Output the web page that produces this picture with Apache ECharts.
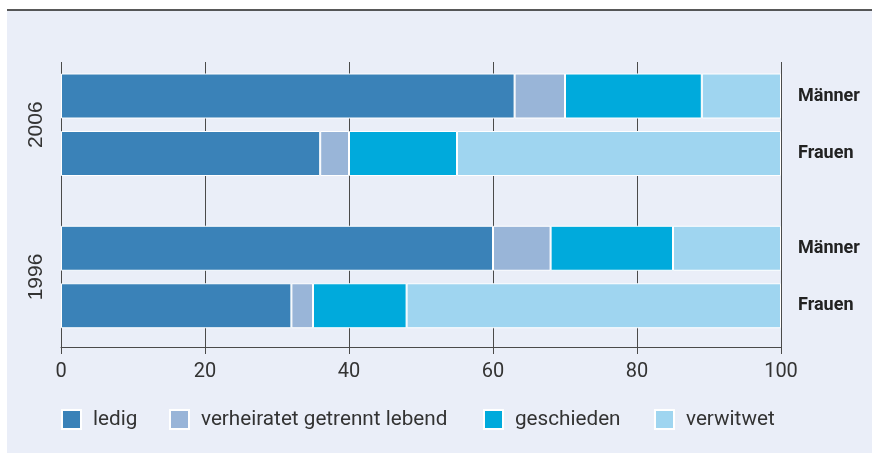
<!DOCTYPE html>
<html>
<head>
<meta charset="utf-8">
<script src="https://cdn.jsdelivr.net/npm/echarts@6/dist/echarts.min.js"></script>
<style>
  html, body { margin: 0; padding: 0; background: #fff; }
  #chart { width: 872px; height: 453px; }
</style>
</head>
<body>
<div id="chart"></div>
<script>
// Familienstand in Prozent
const rows = ['Männer', 'Frauen'];
const years = ['2006', '1996'];
const statusNames = ['ledig', 'verheiratet getrennt lebend', 'geschieden', 'verwitwet'];
const statusColors = ['#3a82b8', '#99b5d8', '#00aadc', '#9fd5f0'];
const xTicks = [0, 20, 40, 60, 80, 100];

const ledig2006 = [63, 36];
const getrennt2006 = [7, 4];
const geschieden2006 = [19, 15];
const verwitwet2006 = [11, 45];

const ledig1996 = [60, 32];
const getrennt1996 = [8, 3];
const geschieden1996 = [17, 13];
const verwitwet1996 = [15, 52];

const byYear = [
  [ledig2006, getrennt2006, geschieden2006, verwitwet2006],
  [ledig1996, getrennt1996, geschieden1996, verwitwet1996]
];

const font = 'Roboto, "Liberation Sans", sans-serif';
const lineColor = '#4a4a4a';

// grid 0 only carries the x axis + grid lines, grids 1/2 hold the bars
const grids = [
  { left: 61, right: 91, top: 62, height: 285 },
  { left: 61, right: 91, top: 67.25, height: 115 },
  { left: 61, right: 91, top: 219.5, height: 115 }
];

const xAxes = [{
  gridIndex: 0,
  type: 'value',
  min: xTicks[0],
  max: xTicks[xTicks.length - 1],
  interval: 20,
  axisLine: { show: true, lineStyle: { color: lineColor, width: 1 } },
  axisTick: { show: true, length: 7, lineStyle: { color: lineColor } },
  splitLine: { show: true, lineStyle: { color: lineColor, width: 1 } },
  axisLabel: { fontSize: 20, fontFamily: font, color: '#333', margin: 15 }
}];
const yAxes = [{ gridIndex: 0, type: 'value', show: false }];

years.forEach(function (yr, i) {
  xAxes.push({ gridIndex: i + 1, type: 'value', min: 0, max: 100, show: false });
  // right side: Männer / Frauen
  yAxes.push({
    gridIndex: i + 1,
    type: 'category',
    data: rows,
    inverse: true,
    position: 'right',
    axisLine: { show: false },
    axisTick: { show: false },
    axisLabel: { fontSize: 18, fontWeight: 'bold', fontFamily: font, color: '#222', margin: 17 }
  });
  // left side: year as axis name
  yAxes.push({
    gridIndex: i + 1,
    type: 'category',
    data: rows,
    inverse: true,
    position: 'left',
    axisLine: { show: false },
    axisTick: { show: false },
    axisLabel: { show: false },
    name: yr,
    nameLocation: 'middle',
    nameRotate: 90,
    nameGap: 14,
    nameTextStyle: { fontSize: 21, fontFamily: '"Liberation Sans", Arial, sans-serif', color: '#333' }
  });
});

const series = [];
years.forEach(function (yr, i) {
  byYear[i].forEach(function (vals, k) {
    series.push({
      name: statusNames[k],
      type: 'bar',
      stack: 'y' + yr,
      xAxisIndex: i + 1,
      yAxisIndex: 1 + i * 2,
      barWidth: 45,
      data: vals,
      itemStyle: { color: statusColors[k], borderColor: '#fff', borderWidth: 1 },
      emphasis: { disabled: true }
    });
  });
});

const legendLeft = [61, 169, 483, 654];
const legends = statusNames.map(function (n, k) {
  return {
    data: [n],
    left: legendLeft[k],
    top: 409,
    icon: 'rect',
    itemWidth: 19,
    itemHeight: 19,
    selectedMode: false,
    padding: 0,
    textStyle: { fontSize: 20.7, fontFamily: font, color: '#333', lineHeight: 19, padding: [0, 0, 0, 7] }
  };
});

const option = {
  backgroundColor: '#eaeef8',
  animation: false,
  graphic: [
    { type: 'rect', shape: { x: 0, y: 0, width: 872, height: 10 }, style: { fill: '#fff' } },
    { type: 'rect', shape: { x: 0, y: 0, width: 7, height: 453 }, style: { fill: '#fff' } },
    { type: 'line', shape: { x1: 7, y1: 10, x2: 872, y2: 10 }, style: { stroke: '#222', lineWidth: 1.5 } }
  ],
  grid: grids,
  xAxis: xAxes,
  yAxis: yAxes,
  legend: legends,
  series: series
};

const myChart = echarts.init(document.getElementById('chart'));
myChart.setOption(option);
</script>
</body>
</html>
